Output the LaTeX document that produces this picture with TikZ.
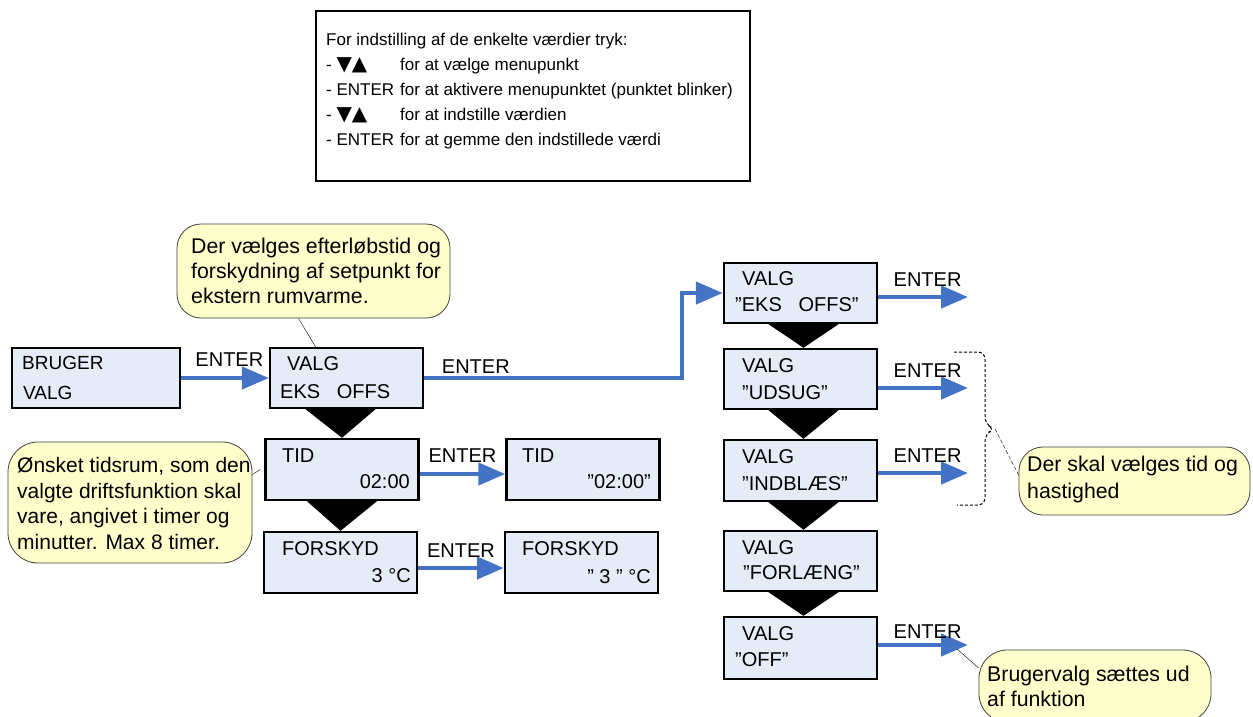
\documentclass[tikz,border=0pt]{standalone}
\usepackage{fontspec}
\setmainfont{Liberation Sans}
\newfontfamily\symfont{DejaVu Sans}
\usetikzlibrary{arrows.meta}
\definecolor{lcdfill}{RGB}{230,236,247}
\definecolor{flowblue}{RGB}{68,114,196}
\definecolor{notefill}{RGB}{255,255,204}

\begin{document}
\begin{tikzpicture}[x=1pt,y=-1pt,
    lcd/.style={draw,line width=2.4pt,fill=lcdfill,minimum width=153pt,minimum height=60pt,inner sep=0pt},
    lcdtxt/.style={inner sep=0pt,font=\fontsize{20}{24}\selectfont},
    flow/.style={draw=flowblue,line width=4.5pt,-{Triangle[length=27pt,width=22pt]}},
    enter/.style={inner sep=0pt,font=\fontsize{20}{24}\selectfont},
    note/.style={draw=black!75,line width=0.8pt,fill=notefill,rounded corners=24pt,inner sep=0pt},
    notetxt/.style={inner sep=0pt,align=left,font=\fontsize{21.3}{25}\selectfont}]
      \useasboundingbox (0,0) rectangle (1253,716) ;
      % instruktion
      \node[draw,line width=2pt,minimum width=434pt,minimum height=170pt,inner sep=0pt] %
      (howbox) at (533,96) {} ;
      \node[anchor=north west,inner sep=0pt,font=\fontsize{17}{25}\selectfont] (howto) at (326,28) {%
        \begin{tabular}{@{}p{74pt}@{}l@{}}
        \multicolumn{2}{@{}l@{}}{For indstilling af de enkelte værdier tryk:}\\
        - {\symfont\fontsize{20}{25}\selectfont ▼▲} & for at vælge menupunkt\\
        - ENTER & for at aktivere menupunktet (punktet blinker)\\
        - {\symfont\fontsize{20}{25}\selectfont ▼▲} & for at indstille værdien\\
        - ENTER & for at gemme den indstillede værdi
        \end{tabular}} ;
      % venstre del
      \node[lcd,minimum width=168pt] (bruger) at (96,378) {} ;
      \node[lcdtxt,anchor=west,font=\fontsize{19}{23}\selectfont] (brugera) at (22,363) {BRUGER} ;
      \node[lcdtxt,anchor=west,font=\fontsize{19}{23}\selectfont] (brugerb) at (23,393) {VALG} ;
      \node[lcd] (valg) at (346.5,378) {} ;
      \node[lcdtxt,anchor=west] (valga) at (287,364) {VALG} ;
      \node[lcdtxt,anchor=west] (valgb) at (280,392) {EKS\ \ \ OFFS} ;
      \node[lcd,minimum height=61pt] (tid) at (342,469.5) {} ;
      \node[lcdtxt,anchor=west] (tida) at (282,456) {TID} ;
      \node[lcdtxt,anchor=east] (tidb) at (410,482) {02:00} ;
      \node[lcd,minimum height=61pt] (forskyd) at (340.5,562.5) {} ;
      \node[lcdtxt,anchor=west] (forskyda) at (282,549) {FORSKYD} ;
      \node[lcdtxt,anchor=east] (forskydb) at (411,576) {3 °C} ;
      \node[lcd,minimum height=61pt] (tidset) at (583,469.5) {} ;
      \node[lcdtxt,anchor=west] (tidseta) at (522,456) {TID} ;
      \node[lcdtxt,anchor=east] (tidsetb) at (651,482) {”02:00"} ;
      \node[lcd,minimum height=61pt] (forskydset) at (581.5,562.5) {} ;
      \node[lcdtxt,anchor=west] (forskydseta) at (522,549) {FORSKYD} ;
      \node[lcdtxt,anchor=east] (forskydsetb) at (651,577) {” 3 " °C} ;
      \fill (tid.north) -- ([xshift=-41pt]valg.south) -- ([xshift=29pt]valg.south) -- cycle ;
      \fill (forskyd.north) -- ([xshift=-35pt]tid.south) -- ([xshift=35pt]tid.south) -- cycle ;
      \draw[flow] (bruger.east) -- node[enter,pos=0.55,above=9pt] (entera) {ENTER} (valg.west) ;
      \draw[flow] ([yshift=-4.5pt]tid.east) -- node[enter,above=9pt] (enterc) {ENTER} ([yshift=-4.5pt]tidset.west) ;
      \draw[flow] ([yshift=-5.5pt]forskyd.east) -- node[enter,above=8pt] (enterd) {ENTER} ([yshift=-5.5pt]forskydset.west) ;
      % hoejre kolonne
      \node[lcd] (r1) at (800.5,293) {} ;
      \node[lcdtxt,anchor=west] (r1a) at (742,279) {VALG} ;
      \node[lcdtxt,anchor=west] (r1b) at (735,305) {”EKS\ \ \ OFFS”} ;
      \node[lcd] (r2) at (800.5,379) {} ;
      \node[lcdtxt,anchor=west] (r2a) at (742,366) {VALG} ;
      \node[lcdtxt,anchor=west] (r2b) at (742,393) {”UDSUG”} ;
      \node[lcd,minimum height=61pt] (r3) at (800.5,470.5) {} ;
      \node[lcdtxt,anchor=west] (r3a) at (742,457) {VALG} ;
      \node[lcdtxt,anchor=west] (r3b) at (742,484) {”INDBLÆS”} ;
      \node[lcd] (r4) at (800.5,561) {} ;
      \node[lcdtxt,anchor=west] (r4a) at (742,548) {VALG} ;
      \node[lcdtxt,anchor=west] (r4b) at (743,573) {”FORLÆNG”} ;
      \node[lcd,minimum height=62pt] (r5) at (800.5,648) {} ;
      \node[lcdtxt,anchor=west] (r5a) at (742,634) {VALG} ;
      \node[lcdtxt,anchor=west] (r5b) at (735,660) {”OFF”} ;
      \foreach \a/\b in {r1/r2,r2/r3,r3/r4,r4/r5}
        \fill ([xshift=3pt]\b.north) -- ([xshift=-32pt]\a.south) -- ([xshift=38pt]\a.south) -- cycle ;
      \draw[flow] (valg.east) -- node[enter,pos=0.2,above=2pt] (enterb) {ENTER} ++(258,0) |- (r1.west) ;
      \coordinate (r1end) at (968,297) ;
      \coordinate (r2end) at (968,388) ;
      \coordinate (r3end) at (968,473) ;
      \coordinate (r5end) at (968,645) ;
      \draw[flow] ([yshift=-4pt]r1.east) -- node[enter,pos=0.55,above=8pt] (enter1) {ENTER} (r1end) ;
      \draw[flow] ([yshift=-9pt]r2.east) -- node[enter,pos=0.55,above=8pt] (enter2) {ENTER} (r2end) ;
      \draw[flow] ([yshift=-2.5pt]r3.east) -- node[enter,pos=0.55,above=8pt] (enter3) {ENTER} (r3end) ;
      \draw[flow] ([yshift=3pt]r5.east) -- node[enter,pos=0.55,above=4pt] (enter5) {ENTER} (r5end) ;
      % klamme
      \draw[dash pattern=on 3pt off 2pt,line width=1pt,rounded corners=7pt] %
      (954,352) -- (985,352) -- (985,424) -- (995,429) -- (985,434) -- (985,505) -- (957,505) ;
      \coordinate (bracetip) at (995,429) ;
      % kommentarer
      \node[note,minimum width=273pt,minimum height=94pt] (hint1) at (313.5,271) {} ;
      \node[notetxt,anchor=west] (hint1txt) at (191,271) {Der vælges efterløbstid og\\forskydning af setpunkt for\\ekstern rumvarme.} ;
      \draw (hint1.south) ++(-15,0) -- ([xshift=-31pt]valg.north) ;
      \node[note,rounded corners=30pt,minimum width=244pt,minimum height=121pt] (hint2) at (130,502.5) {} ;
      \node[notetxt,anchor=west,font=\fontsize{21}{25.5}\selectfont] (hint2txt) at (17,503.5) {Ønsket tidsrum, som den\\valgte driftsfunktion skal\\vare, angivet i timer og\\minutter. Max 8 timer.} ;
      \draw ([yshift=28pt]hint2.east) -- ([xshift=-4pt]tid.west) ;
      \node[note,minimum width=231pt,minimum height=68pt] (hint4) at (1134.5,481) {} ;
      \node[notetxt,anchor=west,font=\fontsize{21.3}{27}\selectfont] (hint4txt) at (1027,479.5) {Der skal vælges tid og\\hastighed} ;
      \draw[dash pattern=on 4pt off 2pt] (bracetip) -- ([yshift=6pt]hint4.west) ;
      \node[note,rounded corners=28pt,minimum width=232pt,minimum height=72pt] (hint3) at (1095,686) {} ;
      \node[notetxt,anchor=west] (hint3txt) at (987,686.5) {Brugervalg sættes ud\\af funktion} ;
      \draw ([xshift=-11pt,yshift=-4pt]r5end) -- ([yshift=18pt]hint3.west) ;
    \end{tikzpicture}
\end{document}
